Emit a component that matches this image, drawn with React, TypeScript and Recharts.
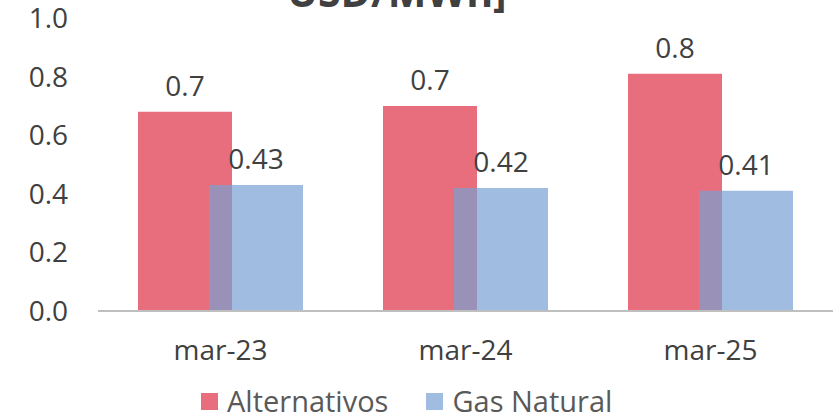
import React from 'react';
import { BarChart, Bar, XAxis, YAxis, LabelList, Legend } from 'recharts';

const CATEGORIES = ['mar-23', 'mar-24', 'mar-25'];
const ALTERNATIVOS = [0.68, 0.7, 0.81];
const GAS_NATURAL = [0.43, 0.42, 0.41];
const Y_TICKS = [0, 0.2, 0.4, 0.6, 0.8, 1.0];

const RED = '#E96E7D';
const BLUE = '#789FD3';
const FONT = '"Open Sans", sans-serif';

const data = CATEGORIES.map((name, i) => ({
  name,
  alt: ALTERNATIVOS[i],
  gas: GAS_NATURAL[i],
}));

const legendItems = [
  { label: 'Alternativos', color: RED, opacity: 1 },
  { label: 'Gas Natural', color: BLUE, opacity: 0.7 },
];

function ChartLegend() {
  return (
    <div style={{ display: 'flex', alignItems: 'center', paddingLeft: 201, fontFamily: FONT, height: 28 }}>
      {legendItems.map((item, i) => (
        <div
          key={item.label}
          style={{ display: 'flex', alignItems: 'center', marginRight: i === 0 ? 38 : 0 }}
        >
          <span
            style={{
              width: 17,
              height: 17,
              background: item.color,
              opacity: item.opacity,
              marginRight: 9,
              display: 'inline-block',
            }}
          />
          <span style={{ fontSize: 29, color: '#595959', lineHeight: '28px' }}>{item.label}</span>
        </div>
      ))}
    </div>
  );
}

export default function App() {
  return (
    <div style={{ position: 'absolute', left: 0, top: 0, width: 833, height: 418, background: '#fff' }}>
      <BarChart
        width={833}
        height={418}
        data={data}
        margin={{ top: 18, right: 0, left: 0, bottom: 19 }}
        barSize={94}
        barGap={-23}
      >
        <text x={287} y={7} fontFamily={FONT} fontSize={41} fontWeight={700} fill="#404040">
          USD/MWh]
        </text>
        <XAxis
          dataKey="name"
          height={60}
          tickLine={false}
          axisLine={{ stroke: '#BFBFBF', strokeWidth: 2 }}
          tickMargin={23}
          tick={{ fontSize: 28, fill: '#404040', fontFamily: FONT }}
        />
        <YAxis
          width={98}
          domain={[0, 1]}
          ticks={Y_TICKS}
          interval={0}
          axisLine={false}
          tickLine={false}
          tickMargin={24}
          tickFormatter={(v: number) => v.toFixed(1)}
          tick={{ fontSize: 28, fill: '#404040', fontFamily: FONT }}
        />
        <Legend
          verticalAlign="bottom"
          height={28}
          content={() => <ChartLegend />}
          wrapperStyle={{ position: 'absolute', top: 387, left: 0, width: 833, height: 28 }}
        />
        <Bar dataKey="alt" name="Alternativos" fill={RED} isAnimationActive={false}>
          <LabelList
            dataKey="alt"
            position="top"
            offset={16}
            formatter={(v: number) => v.toFixed(1)}
            style={{ fontSize: 28, fill: '#404040', fontFamily: FONT }}
          />
        </Bar>
        <Bar dataKey="gas" name="Gas Natural" fill={BLUE} fillOpacity={0.7} isAnimationActive={false}>
          <LabelList
            dataKey="gas"
            position="top"
            offset={16}
            formatter={(v: number) => v.toFixed(2)}
            style={{ fontSize: 28, fill: '#404040', fontFamily: FONT }}
          />
        </Bar>
      </BarChart>
    </div>
  );
}
